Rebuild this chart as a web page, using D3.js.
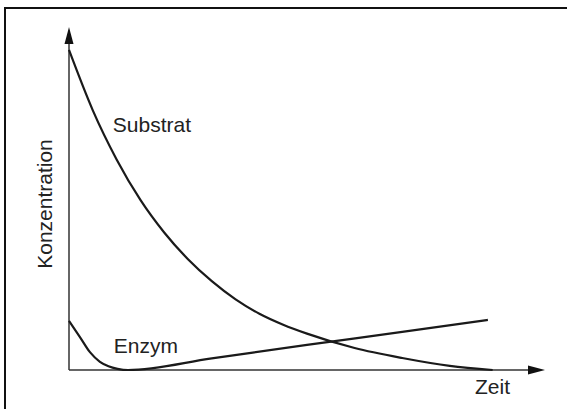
<!DOCTYPE html>
<html>
<head>
<meta charset="utf-8">
<script src="https://cdn.jsdelivr.net/npm/d3@7"></script>
<style>
  html, body { margin: 0; padding: 0; background: #fff; }
  #chart { width: 567px; height: 409px; }
  text { font-family: "Liberation Sans", Arial, sans-serif; fill: #222; }
</style>
</head>
<body>
<div id="chart"></div>
<script>
// time values (arbitrary units 0..100) and concentrations
const substratTime = [0, 5, 10, 15, 20, 25, 30, 35, 40, 45, 50, 60, 70, 80, 89];
const substratValue = [93.3, 75.7, 61.4, 49.6, 40.1, 32.3, 25.9, 20.6, 16.4, 13.2, 10.6, 6.4, 3.5, 1.2, 0];

const enzymTime = [0, 2.3, 4.4, 6.5, 8.3, 10.2, 12.4, 30, 50, 70, 88];
const enzymValue = [14.3, 9.6, 5.2, 2.4, 1.1, 0.35, 0, 3.4, 7.3, 11.1, 14.6];

const labels = [
    { text: "Substrat", t: 9.2, v: 69.5 },
    { text: "Enzym", t: 9.4, v: 4.9 }
];
const xTitle = "Zeit";
const yTitle = "Konzentration";

const W = 567, H = 409;
const svg = d3.select("#chart").append("svg")
    .attr("width", W)
    .attr("height", H);

// frame (only top and left edges are visible in the picture)
svg.append("path")
    .attr("d", `M5,${H} L5,8 L${W},8`)
    .attr("fill", "none")
    .attr("stroke", "#111")
    .attr("stroke-width", 2);

const x = d3.scaleLinear().domain([0, 100]).range([69, 545]);
const y = d3.scaleLinear().domain([0, 100]).range([370, 27]);

const axisColor = "#333";
const x0 = x(0), y0 = y(0);
const xEnd = x.range()[1], yEnd = y.range()[1];

// axes with arrow heads
svg.append("line")
    .attr("x1", x0).attr("y1", y0).attr("x2", xEnd - 10).attr("y2", y0)
    .attr("stroke", axisColor).attr("stroke-width", 1.5);
svg.append("line")
    .attr("x1", x0).attr("y1", y0).attr("x2", x0).attr("y2", yEnd + 10)
    .attr("stroke", axisColor).attr("stroke-width", 1.5);
svg.append("path")
    .attr("d", `M${xEnd},${y0} L${xEnd - 17},${y0 - 4.5} L${xEnd - 17},${y0 + 4.5} Z`)
    .attr("fill", "#111");
svg.append("path")
    .attr("d", `M${x0},${yEnd} L${x0 - 4.5},${yEnd + 17} L${x0 + 4.5},${yEnd + 17} Z`)
    .attr("fill", "#111");

const line = d3.line()
    .x(d => x(d[0]))
    .y(d => y(d[1]))
    .curve(d3.curveMonotoneX);

svg.append("path")
    .datum(d3.zip(substratTime, substratValue))
    .attr("fill", "none")
    .attr("stroke", "#1a1a1a")
    .attr("stroke-width", 2.2)
    .attr("d", line);

svg.append("path")
    .datum(d3.zip(enzymTime, enzymValue))
    .attr("fill", "none")
    .attr("stroke", "#1a1a1a")
    .attr("stroke-width", 2.2)
    .attr("d", line);

svg.selectAll("text.lbl")
    .data(labels)
    .enter().append("text")
    .attr("class", "lbl")
    .attr("x", d => x(d.t))
    .attr("y", d => y(d.v))
    .attr("font-size", 21)
    .text(d => d.text);

svg.append("text")
    .attr("x", 475)
    .attr("y", 394)
    .attr("font-size", 21)
    .text(xTitle);

svg.append("text")
    .attr("transform", "translate(52,204) rotate(-90)")
    .attr("text-anchor", "middle")
    .attr("font-size", 21)
    .text(yTitle);
</script>
</body>
</html>
